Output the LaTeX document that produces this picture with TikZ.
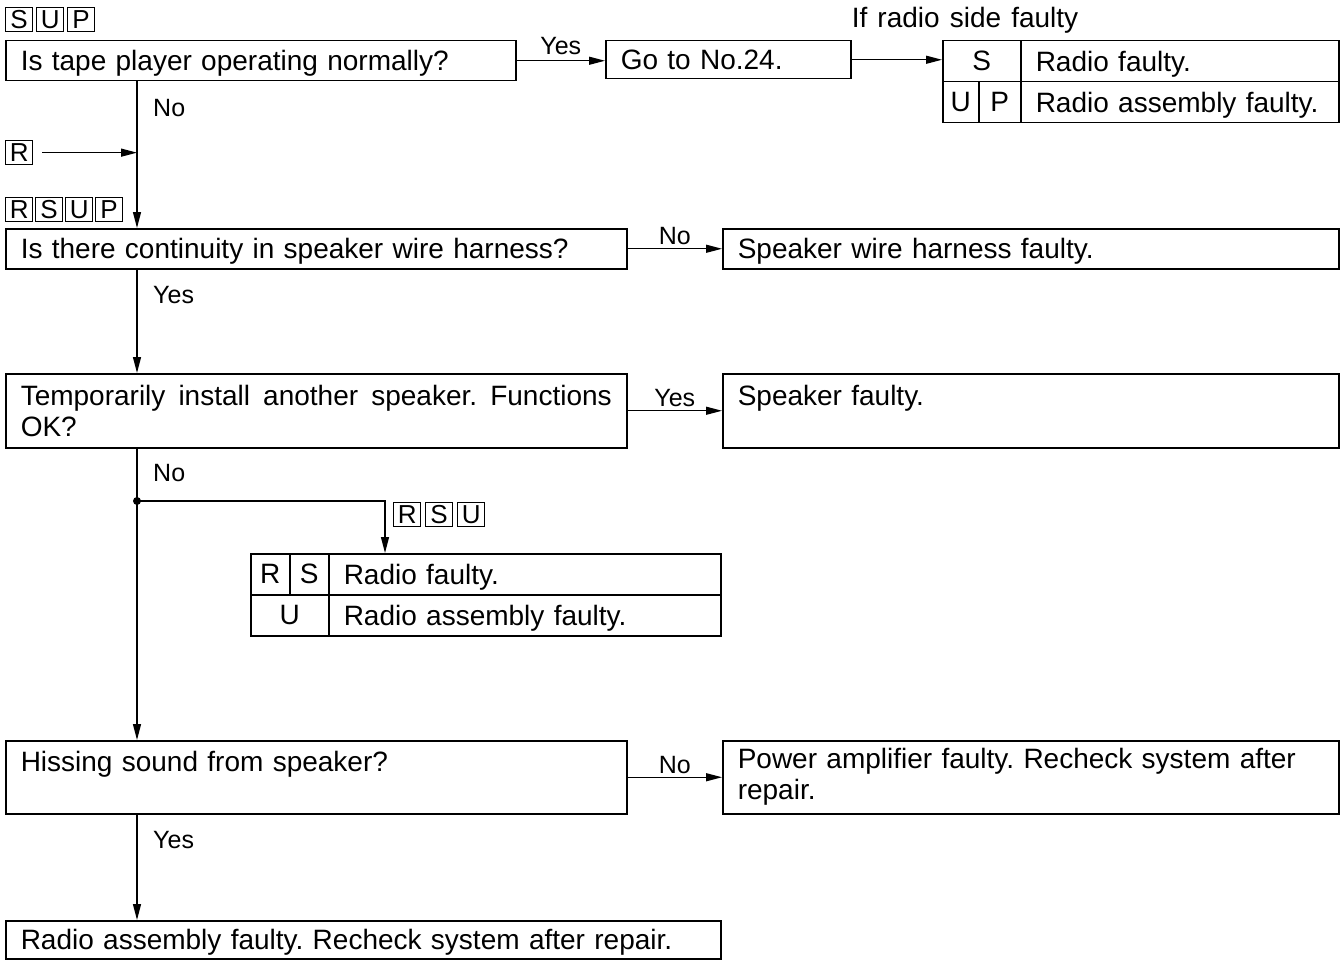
\documentclass[tikz,border=0pt]{standalone}
\usepackage{fontspec}
\setmainfont{Liberation Sans}[WordSpace=1.3]
\usetikzlibrary{arrows.meta,positioning}
\frenchspacing

\begin{document}
\begin{tikzpicture}[
  x=1pt, y=-1pt,
  font=\fontsize{28}{31}\selectfont,
  bx/.style={draw, line width=1.5pt, anchor=north west, align=left,
             inner xsep=15pt, inner ysep=4pt, minimum height=40pt},
  oneline/.style={text depth=0pt},
  qbox/.style={bx, text width=591pt},
  abox/.style={bx, text width=586pt},
  cell/.style={draw, line width=1.5pt, anchor=north west, inner sep=0pt,
               minimum height=41pt, minimum width=#1},
  tcell/.style={draw, line width=1.5pt, anchor=north west, align=left, oneline,
                inner xsep=15pt, inner ysep=0pt, minimum height=41pt, text width=#1},
  tag/.style={draw, line width=1.3pt, anchor=north west, inner sep=0pt,
              minimum width=27pt, minimum height=24pt, font=\fontsize{26}{26}\selectfont},
  arr/.style={-{Triangle[length=16pt,width=8pt]}, line width=1.3pt},
  lab/.style={font=\fontsize{25}{25}\selectfont, inner sep=2pt}
]
\useasboundingbox (0,0) rectangle (1340,960);

% model tags
\foreach \l [count=\i] in {S,U,P}
  \node[tag] (sup\i) at ({5+31*(\i-1)},7) {\l};
\node[tag] (rtag) at (5,140) {R};
\foreach \l [count=\i] in {R,S,U,P}
  \node[tag] (rsup\i) at ({5+30*(\i-1)},197) {\l};
\foreach \l [count=\i] in {R,S,U}
  \node[tag] (rsu\i) at ({393+32*(\i-1)},502) {\l};

% questions and results
\node[bx, oneline, text width=480pt] (tape) at (5,40) {Is tape player operating normally?};
\node[bx, oneline, text width=215pt, minimum height=38pt] (goto) at (605,40) {Go to No.24.};
\node (radioside) at (965,20) {If radio side faulty};

\node[qbox, oneline] (cont) at (5,228) {Is there continuity in speaker wire harness?};
\node[abox, oneline] (harness) at (722,228) {Speaker wire harness faulty.};

\node[qbox, align=justify, minimum height=74pt] (temp) at (5,373)
  {Temporarily install another speaker. Functions\linebreak OK?};
\node[abox, minimum height=74pt] (spk) at (722,373) {Speaker faulty.\\\mbox{}};

\node[qbox, minimum height=73pt] (hiss) at (5,740) {Hissing sound from speaker?\\\mbox{}};
\node[abox, minimum height=73pt] (amp) at (722,740)
  {Power amplifier faulty. Recheck system after\\repair.};

\node[bx, oneline, text width=685pt, minimum height=38pt] (assy) at (5,920)
  {Radio assembly faulty. Recheck system after repair.};

% table after No.24
\node[cell=78pt] (t1s) at (942,40) {S};
\node[tcell=288pt] (t1a) at (1020,40) {Radio faulty.};
\node[cell=36pt] (t1u) at (942,81) {U};
\node[cell=42pt] (t1p) at (978,81) {P};
\node[tcell=288pt] (t1b) at (1020,81) {Radio assembly faulty.};

% table on the side branch
\node[cell=39pt] (t2r) at (250,553) {R};
\node[cell=39pt] (t2s) at (289,553) {S};
\node[tcell=362pt] (t2a) at (328,553) {Radio faulty.};
\node[cell=78pt] (t2u) at (250,594) {U};
\node[tcell=362pt] (t2b) at (328,594) {Radio assembly faulty.};

% main line
\coordinate (trunk) at (137,0);
\coordinate (split) at (137,501);
\coordinate (drop) at (385,0);

\draw[arr] (tape.south -| trunk) -- (cont.north -| trunk);
\draw[arr] ([xshift=9pt]rtag.east) -- (rtag.east -| trunk);
\draw[arr] (cont.south -| trunk) -- (temp.north -| trunk);
\draw[arr] (temp.south -| trunk) -- (hiss.north -| trunk);
\fill (split) circle (4pt);
\draw[arr] (split) -| (t2a.north -| drop);
\draw[arr] (hiss.south -| trunk) -- (assy.north -| trunk);

\node[lab, anchor=west] (no1) at (151,108) {No};
\node[lab, anchor=west] (yes2) at (151,295) {Yes};
\node[lab, anchor=west] (no3) at (151,473) {No};
\node[lab, anchor=west] (yes4) at (151,840) {Yes};

% side arrows
\draw[arr] (tape.east) -- node[lab, above=3pt] (yes1) {Yes} (tape.east -| goto.west);
\draw[arr] (goto.east) -- (goto.east -| t1s.west);
\draw[arr] (cont.east) -- node[lab, above=1pt] (no2) {No} (cont.east -| harness.west);
\draw[arr] (temp.east) -- node[lab, above=1pt] (yes3) {Yes} (temp.east -| spk.west);
\draw[arr] (hiss.east) -- node[lab, above=1pt] (no4) {No} (hiss.east -| amp.west);

\end{tikzpicture}
\end{document}
